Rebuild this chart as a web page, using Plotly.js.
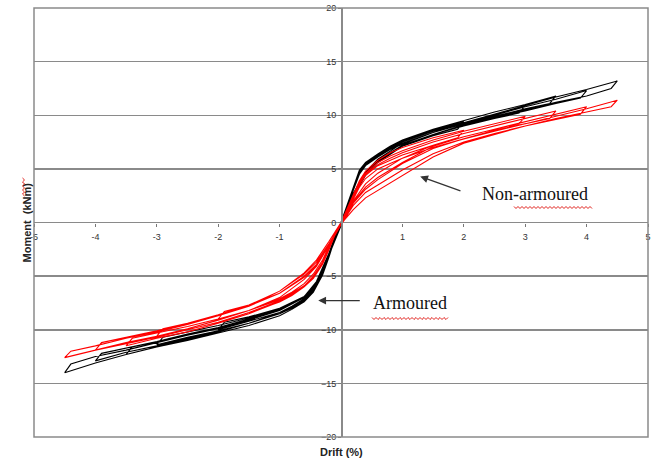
<!DOCTYPE html>
<html><head><meta charset="utf-8">
<script src="https://cdn.plot.ly/plotly-3.0.1.min.js"></script>
<style>html,body{margin:0;padding:0;background:#fff}</style>
</head><body><div id="chart" style="width:660px;height:459px"></div>
<script>
// ---- Data ----
const xTickVals = [-5,-4,-3,-2,-1,0,1,2,3,4,5];
const xTickText = ['-5','-4','-3','-2','-1','','1','2','3','4','5'];
const yTickVals = [-20,-15,-10,-5,0,5,10,15,20];

// Armoured (black) – drift (%) and moment (kNm), cycles of increasing amplitude (2, 3, 3.5, 4, 4.5 %)
const armouredDrift = [
 0,0.1,0.2,0.3,0.4,0.6,0.8,1,1.5,2, 1.9,1.5,1,0.6,0.4,0.2,0.05, -0.1,-0.2,-0.3,-0.45,-0.6,-0.8,-1,-1.5,-2, -1.9,-1.5,-1,-0.6,-0.4,-0.2,0,
 0.1,0.2,0.3,0.4,0.6,0.8,1,1.5,2,2.5,3, 2.9,2.5,2,1.5,1,0.6,0.4,0.2,0.05, -0.1,-0.2,-0.3,-0.45,-0.6,-0.8,-1,-1.5,-2,-2.5,-3, -2.9,-2.5,-2,-1.5,-1,-0.6,-0.4,-0.2,0,
 0.1,0.2,0.3,0.4,0.6,0.8,1,1.5,2,2.5,3,3.5, 3.4,3,2.5,2,1.5,1,0.6,0.4,0.2,0.05, -0.1,-0.2,-0.3,-0.45,-0.6,-0.8,-1,-1.5,-2,-2.5,-3,-3.5, -3.4,-3,-2.5,-2,-1.5,-1,-0.6,-0.4,-0.2,0,
 0.1,0.2,0.3,0.4,0.6,0.8,1,1.5,2,2.5,3,3.5,4, 3.9,3.5,3,2.5,2,1.5,1,0.6,0.4,0.2,0.05, -0.1,-0.2,-0.3,-0.45,-0.6,-0.8,-1,-1.5,-2,-2.5,-3,-3.5,-4, -3.9,-3.5,-3,-2.5,-2,-1.5,-1,-0.6,-0.4,-0.2,0,
 0.1,0.2,0.3,0.4,0.6,0.8,1,1.5,2,2.5,3,3.5,4,4.5, 4.4,4,3.5,3,2.5,2,1.5,1,0.6,0.4,0.2,0.05, -0.1,-0.2,-0.3,-0.45,-0.6,-0.8,-1,-1.5,-2,-2.5,-3,-3.5,-4,-4.5, -4.4,-4,-3.5,-3,-2.5,-2,-1.5,-1,-0.6,-0.4,-0.2,0
];
const armouredMoment = [
 0,1.7,3.4,4.9,5.6,6.4,7.0,7.6,8.6,9.4, 8.7,8.1,7.1,5.8,4.7,2.7,0.6, -1.5,-3.3,-4.9,-6.5,-7.3,-7.9,-8.4,-9.2,-10.0, -9.3,-8.8,-8.0,-6.9,-5.7,-3.1,-0.3,
 1.5,3.2,4.7,5.5,6.3,6.9,7.5,8.5,9.3,10.1,10.9, 10.2,9.7,9.0,8.2,7.2,5.8,4.6,2.6,0.5, -1.4,-3.1,-4.7,-6.4,-7.3,-8.0,-8.5,-9.4,-10.1,-10.7,-11.4, -10.7,-10.2,-9.6,-8.9,-8.0,-6.9,-5.6,-3.0,-0.2,
 1.6,3.3,4.8,5.6,6.4,7.1,7.7,8.7,9.5,10.3,11.0,11.8, 11.1,10.6,9.9,9.2,8.4,7.4,5.9,4.7,2.7,0.5, -1.5,-3.2,-4.8,-6.5,-7.4,-8.1,-8.7,-9.6,-10.3,-11.0,-11.6,-12.3, -11.6,-11.1,-10.5,-9.8,-9.1,-8.2,-7.0,-5.7,-3.1,-0.2,
 1.4,3.1,4.6,5.4,6.2,6.8,7.4,8.4,9.2,10.0,10.8,11.5,12.3, 11.6,11.1,10.4,9.8,9.1,8.2,7.2,5.7,4.5,2.5,0.5, -1.4,-3.0,-4.6,-6.3,-7.2,-7.9,-8.5,-9.4,-10.1,-10.8,-11.5,-12.1,-12.9, -12.2,-11.7,-11.1,-10.4,-9.8,-9.0,-8.1,-6.9,-5.6,-3.0,-0.2,
 1.3,3.0,4.5,5.3,6.1,6.8,7.3,8.4,9.3,10.1,10.9,11.7,12.4,13.2, 12.5,11.8,11.2,10.5,9.8,9.0,8.2,7.1,5.6,4.4,2.4,0.4, -1.3,-2.9,-4.5,-6.2,-7.1,-7.8,-8.4,-9.4,-10.2,-10.9,-11.6,-12.3,-13.1,-14.0, -13.2,-12.5,-11.9,-11.2,-10.5,-9.9,-9.1,-8.1,-6.9,-5.5,-2.9,0
];

// Non-armoured (red) – same drift history
const nonArmouredDrift = [
 0,0.1,0.2,0.3,0.4,0.6,0.8,1,1.5,2, 1.9,1.5,1,0.6,0.4,0.2,0.05, -0.1,-0.2,-0.3,-0.45,-0.6,-0.8,-1,-1.5,-2, -1.9,-1.5,-1,-0.6,-0.4,-0.2,0,
 0.1,0.2,0.3,0.4,0.6,0.8,1,1.5,2,2.5,3, 2.9,2.5,2,1.5,1,0.6,0.4,0.2,0.05, -0.1,-0.2,-0.3,-0.45,-0.6,-0.8,-1,-1.5,-2,-2.5,-3, -2.9,-2.5,-2,-1.5,-1,-0.6,-0.4,-0.2,0,
 0.1,0.2,0.3,0.4,0.6,0.8,1,1.5,2,2.5,3,3.5, 3.4,3,2.5,2,1.5,1,0.6,0.4,0.2,0.05, -0.1,-0.2,-0.3,-0.45,-0.6,-0.8,-1,-1.5,-2,-2.5,-3,-3.5, -3.4,-3,-2.5,-2,-1.5,-1,-0.6,-0.4,-0.2,0,
 0.1,0.2,0.3,0.4,0.6,0.8,1,1.5,2,2.5,3,3.5,4, 3.9,3.5,3,2.5,2,1.5,1,0.6,0.4,0.2,0.05, -0.1,-0.2,-0.3,-0.45,-0.6,-0.8,-1,-1.5,-2,-2.5,-3,-3.5,-4, -3.9,-3.5,-3,-2.5,-2,-1.5,-1,-0.6,-0.4,-0.2,0,
 0.1,0.2,0.3,0.4,0.6,0.8,1,1.5,2,2.5,3,3.5,4,4.5, 4.4,4,3.5,3,2.5,2,1.5,1,0.6,0.4,0.2,0.05, -0.1,-0.2,-0.3,-0.45,-0.6,-0.8,-1,-1.5,-2,-2.5,-3,-3.5,-4,-4.5, -4.4,-4,-3.5,-3,-2.5,-2,-1.5,-1,-0.6,-0.4,-0.2,0
];
const nonArmouredMoment = [
 0,1.3,2.7,3.9,4.8,5.8,6.5,7.0,7.9,8.6, 7.9,7.2,6.0,4.6,3.6,2.0,0.3, -1.2,-2.6,-3.8,-5.1,-5.9,-6.6,-7.2,-8.2,-9.0, -8.3,-7.7,-6.6,-5.1,-4.0,-2.2,-0.2,
 1.2,2.6,3.7,4.6,5.6,6.2,6.7,7.7,8.5,9.2,9.9, 9.2,8.7,8.0,7.1,5.6,4.2,3.3,1.9,0.3, -1.2,-2.6,-3.9,-5.2,-6.0,-6.8,-7.4,-8.4,-9.3,-10.0,-10.6, -9.9,-9.4,-8.6,-7.8,-6.6,-5.0,-3.9,-2.1,-0.2,
 1.15,2.5,3.6,4.5,5.4,6.0,6.5,7.5,8.3,9.0,9.7,10.4, 9.7,9.2,8.6,7.8,6.9,5.5,4.0,3.1,1.8,0.3, -1.15,-2.5,-3.8,-5.1,-6.0,-6.8,-7.4,-8.5,-9.4,-10.2,-10.8,-11.5, -10.8,-10.3,-9.7,-9.0,-8.2,-7.0,-5.3,-4.1,-2.2,-0.2,
 1.1,2.4,3.5,4.4,5.3,5.8,6.3,7.2,8.0,8.7,9.4,10.1,10.8, 10.1,9.6,9.0,8.3,7.5,6.4,4.9,3.5,2.8,1.6,0.3, -1.1,-2.4,-3.7,-5.0,-5.9,-6.7,-7.3,-8.4,-9.3,-10.0,-10.7,-11.3,-11.9, -11.2,-10.7,-10.1,-9.4,-8.6,-7.7,-6.4,-4.8,-3.7,-2.0,-0.2,
 1.0,2.2,3.3,4.1,5.0,5.5,6.0,7.0,7.8,8.5,9.2,9.9,10.6,11.4, 10.8,10.3,9.7,9.0,8.2,7.4,6.1,4.4,3.0,2.3,1.2,0.2, -1.0,-2.2,-3.5,-4.8,-5.7,-6.5,-7.1,-8.2,-9.1,-9.9,-10.6,-11.2,-11.9,-12.6, -12.0,-11.5,-10.8,-10.2,-9.5,-8.7,-7.8,-6.4,-4.7,-3.5,-1.8,0
];

// ---- Geometry helpers for decorations ----
const L = 34, R = 12, T = 8, B = 22, W = 660, H = 459;
const pw = W - L - R, ph = H - T - B;
function px2paper(x, y){ return [(x - L)/pw, (H - B - y)/ph]; }
function squiggleH(x0, x1, y){
  let d = '', i = 0;
  for (let x = x0; x <= x1; x += 2, i++){
    const p = px2paper(x, y + (i % 2 ? 1.5 : -0.5));
    d += (i ? ' L' : 'M') + p[0].toFixed(5) + ',' + p[1].toFixed(5);
  }
  return d;
}
function squiggleV(x, y0, y1){
  let d = '', i = 0;
  for (let y = y0; y <= y1; y += 2, i++){
    const p = px2paper(x + (i % 2 ? 1.5 : -0.5), y);
    d += (i ? ' L' : 'M') + p[0].toFixed(5) + ',' + p[1].toFixed(5);
  }
  return d;
}
const sq = (path) => ({type:'path', xref:'paper', yref:'paper', path, line:{color:'#e0201b', width:1}});

const traces = [
  {x: armouredDrift, y: armouredMoment, mode:'lines', line:{color:'#000', width:1.1}, name:'Armoured', hoverinfo:'skip'},
  {x: nonArmouredDrift, y: nonArmouredMoment, mode:'lines', line:{color:'#ff0000', width:1.1}, name:'Non-armoured', hoverinfo:'skip'}
];

const axisFont = {family:'Liberation Sans, Arial, sans-serif', size:9, color:'#333'};
const layout = {
  width: W, height: H,
  margin: {l:L, r:R, t:T, b:B, pad:0},
  paper_bgcolor:'#fff', plot_bgcolor:'#fff',
  showlegend:false,
  xaxis: {range:[-5,5], tickvals:xTickVals, ticktext:xTickText, showgrid:false, zeroline:false,
          showline:false, ticks:'outside', ticklen:3, tickcolor:'#777', ticklabelstandoff:3,
          anchor:'free', position:0.5, tickfont:axisFont, fixedrange:true},
  yaxis: {range:[-20,20], tickvals:yTickVals, showgrid:true, gridcolor:'#8a8a8a', gridwidth:1.5,
          zeroline:false, showline:true, linecolor:'#8a8a8a', linewidth:1.5,
          ticks:'outside', ticklen:3, tickcolor:'#777',
          anchor:'free', position:0.5, tickfont:axisFont, fixedrange:true},
  shapes: [
    {type:'rect', xref:'paper', yref:'paper', x0:0, x1:1, y0:0, y1:1, line:{color:'#8a8a8a', width:1.5}},
    sq(squiggleH(514, 592, 207)),
    sq(squiggleH(372, 449, 318)),
    sq(squiggleV(23, 178, 197))
  ],
  annotations: [
    {xref:'paper', yref:'paper', x:(341-L)/pw, y:0, yanchor:'middle', yshift:-15, text:'<b>Drift (%)</b>', showarrow:false,
     font:{family:'Liberation Sans, Arial, sans-serif', size:11, color:'#222'}},
    {xref:'paper', yref:'paper', x:(18-L)/pw, y:0.5, textangle:-90, text:'<b>Moment  (kNm)</b>', showarrow:false,
     font:{family:'Liberation Sans, Arial, sans-serif', size:11, color:'#222'}},
    {x:3.16, y:2.7, xref:'x', yref:'y', text:'Non-armoured', showarrow:false,
     font:{family:'Liberation Serif, Times New Roman, serif', size:18, color:'#111'}},
    {x:1.12, y:-7.55, xref:'x', yref:'y', text:'Armoured', showarrow:false,
     font:{family:'Liberation Serif, Times New Roman, serif', size:18, color:'#111'}},
    {x:1.29, y:4.29, xref:'x', yref:'y', ax:1.97, ay:2.9, axref:'x', ayref:'y', text:'',
     showarrow:true, arrowhead:2, arrowsize:1.2, arrowwidth:1.3, arrowcolor:'#333', standoff:0},
    {x:-0.37, y:-7.28, xref:'x', yref:'y', ax:0.33, ay:-7.28, axref:'x', ayref:'y', text:'',
     showarrow:true, arrowhead:2, arrowsize:1.2, arrowwidth:1.3, arrowcolor:'#333', standoff:0}
  ]
};
Plotly.newPlot('chart', traces, layout, {staticPlot:true, displayModeBar:false});
</script>
</body></html>
